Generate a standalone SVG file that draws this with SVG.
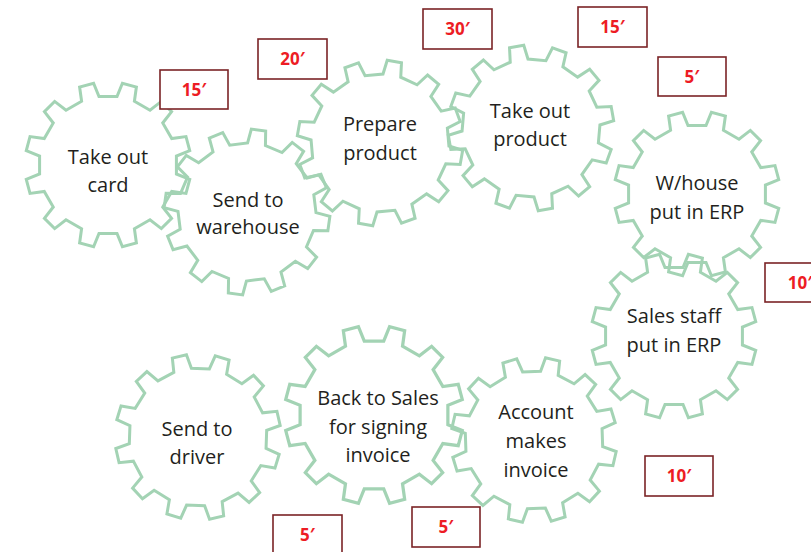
<svg xmlns="http://www.w3.org/2000/svg" xmlns:xlink="http://www.w3.org/1999/xlink" width="811" height="552" viewBox="0 0 811 552">
<defs>
<style>
.gear{fill:none;stroke:#a3d3b4;stroke-width:3;stroke-linejoin:miter}
.lbl{font-family:"Open Sans","Liberation Sans",sans-serif;font-size:20px;fill:#231f20;text-anchor:middle}
.box{fill:#ffffff;stroke:#7b2326;stroke-width:1.6}
.tm{font-family:"Open Sans","Liberation Sans",sans-serif;font-size:17px;font-weight:bold;fill:#ed1c24;text-anchor:middle}
</style>
<path id="g" d="M68.41,-9.01 L82.68,-7.23 L82.68,7.23 L68.41,9.01 L63.75,26.41 L75.22,35.08 L67.99,47.61 L54.74,42.00 L42.00,54.74 L47.61,67.99 L35.08,75.22 L26.41,63.75 L9.01,68.41 L7.23,82.68 L-7.23,82.68 L-9.01,68.41 L-26.41,63.75 L-35.08,75.22 L-47.61,67.99 L-42.00,54.74 L-54.74,42.00 L-67.99,47.61 L-75.22,35.08 L-63.75,26.41 L-68.41,9.01 L-82.68,7.23 L-82.68,-7.23 L-68.41,-9.01 L-63.75,-26.41 L-75.22,-35.08 L-67.99,-47.61 L-54.74,-42.00 L-42.00,-54.74 L-47.61,-67.99 L-35.08,-75.22 L-26.41,-63.75 L-9.01,-68.41 L-7.23,-82.68 L7.23,-82.68 L9.01,-68.41 L26.41,-63.75 L35.08,-75.22 L47.61,-67.99 L42.00,-54.74 L54.74,-42.00 L67.99,-47.61 L75.22,-35.08 L63.75,-26.41 Z"/>
</defs>
<rect width="811" height="552" fill="#ffffff"/>
<g id="connectors"></g>

<g id="n1">
<use xlink:href="#g" href="#g" class="gear" transform="translate(108,165) rotate(15)"/>
<text class="lbl" x="108" y="164">Take out</text>
<text class="lbl" x="108" y="192">card</text>
</g>
<g id="n2">
<use xlink:href="#g" href="#g" class="gear" transform="translate(247,212) rotate(8)"/>
<text class="lbl" x="248" y="207">Send to</text>
<text class="lbl" x="248" y="234">warehouse</text>
</g>
<g id="n3">
<use xlink:href="#g" href="#g" class="gear" transform="translate(380,143) rotate(10)"/>
<text class="lbl" x="380" y="131">Prepare</text>
<text class="lbl" x="380" y="160">product</text>
</g>
<g id="n4">
<use xlink:href="#g" href="#g" class="gear" transform="translate(531,128) rotate(20)"/>
<text class="lbl" x="530" y="118">Take out</text>
<text class="lbl" x="530" y="146">product</text>
</g>
<g id="n5">
<use xlink:href="#g" href="#g" class="gear" transform="translate(697,194) rotate(15)"/>
<text class="lbl" x="697" y="190">W/house</text>
<text class="lbl" x="697" y="219">put in ERP</text>
</g>
<g id="n6">
<use xlink:href="#g" href="#g" class="gear" transform="translate(674,336) rotate(15)"/>
<text class="lbl" x="674" y="323">Sales staff</text>
<text class="lbl" x="674" y="352">put in ERP</text>
</g>
<g id="n7">
<use xlink:href="#g" href="#g" class="gear" transform="translate(534,440) rotate(13)"/>
<text class="lbl" x="536" y="419">Account</text>
<text class="lbl" x="536" y="448">makes</text>
<text class="lbl" x="536" y="477">invoice</text>
</g>
<g id="n8">
<use xlink:href="#g" href="#g" class="gear" transform="translate(374,415) rotate(15) scale(1.08)"/>
<text class="lbl" x="378" y="405">Back to Sales</text>
<text class="lbl" x="378" y="434">for signing</text>
<text class="lbl" x="378" y="462">invoice</text>
</g>
<g id="n9">
<use xlink:href="#g" href="#g" class="gear" transform="translate(198,437) rotate(17)"/>
<text class="lbl" x="197" y="436">Send to</text>
<text class="lbl" x="197" y="464">driver</text>
</g>

<g id="t1"><rect class="box" x="160" y="70" width="68" height="39"/><text class="tm" x="194" y="96">15′</text></g>
<g id="t2"><rect class="box" x="258" y="39" width="69" height="40"/><text class="tm" x="292.5" y="65">20′</text></g>
<g id="t3"><rect class="box" x="423" y="9" width="69" height="40"/><text class="tm" x="457.5" y="35">30′</text></g>
<g id="t4"><rect class="box" x="578" y="7" width="69" height="40"/><text class="tm" x="612.5" y="33">15′</text></g>
<g id="t5"><rect class="box" x="658" y="57" width="68" height="39"/><text class="tm" x="692" y="83">5′</text></g>
<g id="t6"><rect class="box" x="765" y="263" width="70" height="39"/><text class="tm" x="800" y="289">10′</text></g>
<g id="t7"><rect class="box" x="645" y="456" width="68" height="40"/><text class="tm" x="679" y="482">10′</text></g>
<g id="t8"><rect class="box" x="273" y="515" width="69" height="40"/><text class="tm" x="307.5" y="541">5′</text></g>
<g id="t9"><rect class="box" x="412" y="507" width="68" height="40"/><text class="tm" x="446" y="533">5′</text></g>
</svg>
